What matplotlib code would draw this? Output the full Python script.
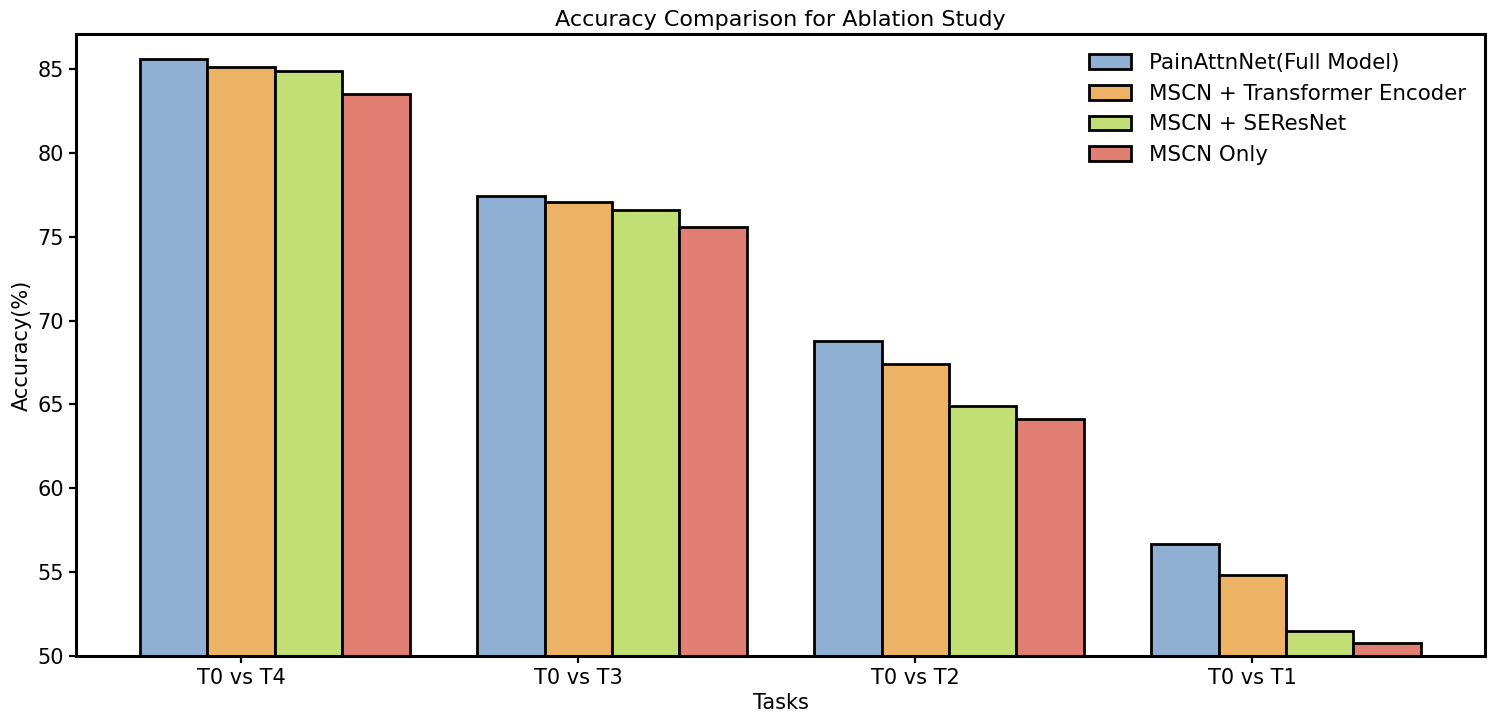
import numpy as np
import matplotlib
matplotlib.use('Agg')
import matplotlib.pyplot as plt

#Task names and accuracies for each model variant
tasks = ['T0 vs T4', 'T0 vs T3', 'T0 vs T2', 'T0 vs T1']
models = ['PainAttnNet(Full Model)', 'MSCN + Transformer Encoder', 'MSCN + SEResNet', 'MSCN Only']
fullModel = [85.6, 77.4, 68.8, 56.7]
mscnTransformer = [85.1, 77.1, 67.4, 54.8]
mscnSeresnet = [84.9, 76.6, 64.9, 51.5]
mscnOnly = [83.5, 75.6, 64.1, 50.8]
colors = ['#8FAFD3', '#ECB366', '#C1DF74', '#E17F72']

plt.rcParams['font.size'] = 15

fig = plt.figure(figsize=(14.9, 7.2), dpi=100)
ax = fig.add_axes([0.051, 0.089, 0.9456, 0.864])

x = np.arange(len(tasks))
width = 0.2
series = [fullModel, mscnTransformer, mscnSeresnet, mscnOnly]

#Bars are offset so the tick sits on the second bar of each group
for i, vals in enumerate(series):
	ax.bar(x + (i - 1)*width, vals, width, color=colors[i], edgecolor='black',
		linewidth=2, label=models[i])

ax.set_xticks(x)
ax.set_xticklabels(tasks)
ax.set_ylim(50, 87.1)
ax.set_xlabel('Tasks')
ax.set_ylabel('Accuracy(%)')
ax.set_title('Accuracy Comparison for Ablation Study', fontsize=16)

for s in ax.spines.values():
	s.set_linewidth(2.2)
ax.tick_params(width=1.6, length=5)

ax.legend(loc='upper right', frameon=False, fontsize=15.4)

fig.savefig('out.png', dpi=100)
